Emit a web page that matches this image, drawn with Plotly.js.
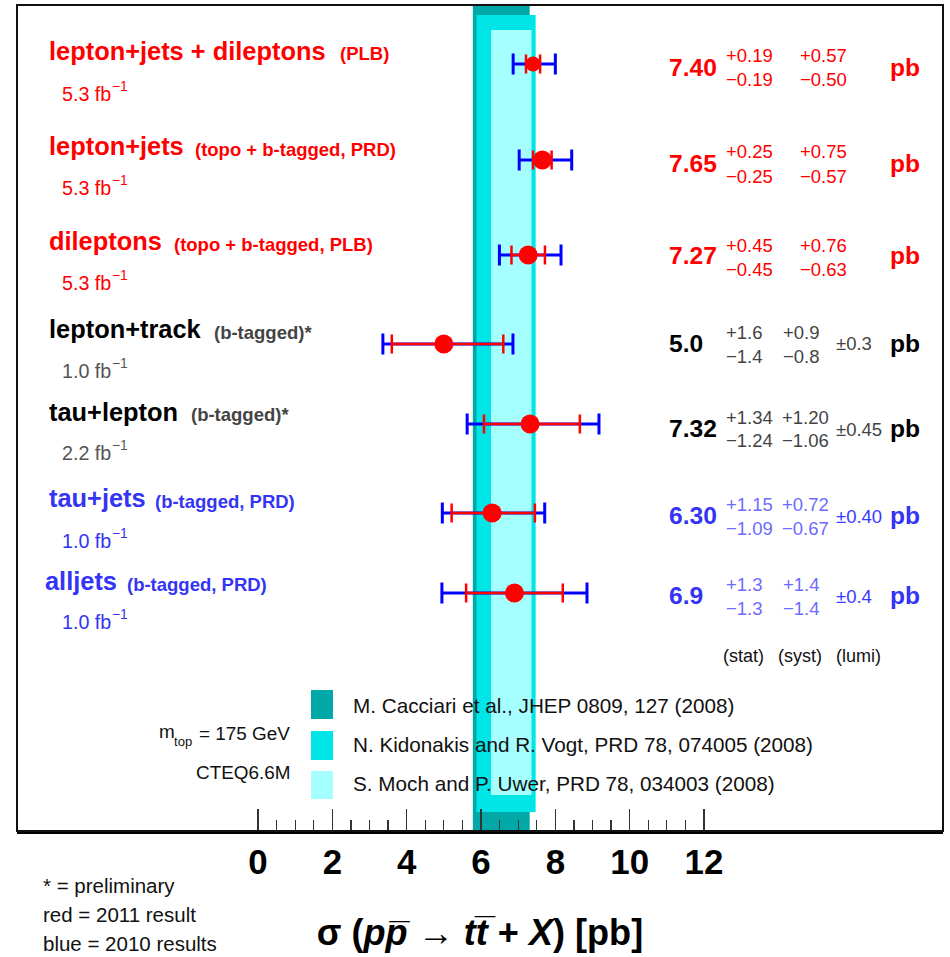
<!DOCTYPE html>
<html><head><meta charset="utf-8">
<script src="https://cdn.plot.ly/plotly-3.0.1.min.js"></script>
<style>html,body{margin:0;padding:0;background:#fff}#chart{width:950px;height:957px}</style>
</head><body><div id="chart"></div>
<script>
// ---------------- data ----------------
const channels = ['lepton+jets + dileptons','lepton+jets','dileptons','lepton+track','tau+lepton','tau+jets','alljets'];
const channelNotes = ['(PLB)','(topo + b-tagged, PRD)','(topo + b-tagged, PLB)','(b-tagged)*','(b-tagged)*','(b-tagged, PRD)','(b-tagged, PRD)'];
const intLumi = ['5.3','5.3','5.3','1.0','2.2','1.0','1.0'];
const xsec   = [7.40, 7.65, 7.27, 5.0, 7.32, 6.30, 6.9];
const statUp = [0.19, 0.25, 0.45, 1.6, 1.34, 1.15, 1.3];
const statDn = [0.19, 0.25, 0.45, 1.4, 1.24, 1.09, 1.3];
const systUp = [0.57, 0.75, 0.76, 0.9, 1.20, 0.72, 1.4];
const systDn = [0.50, 0.57, 0.63, 0.8, 1.06, 0.67, 1.4];
const lumiUnc = [null, null, null, 0.3, 0.45, 0.40, 0.4];
const decimals = [2, 2, 2, 1, 2, 2, 1];
const theoryNames = ['M. Cacciari et al., JHEP 0809, 127 (2008)','N. Kidonakis and R. Vogt, PRD 78, 074005 (2008)','S. Moch and P. Uwer, PRD 78, 034003 (2008)'];
const theoryLow  = [5.78, 5.88, 6.27];
const theoryHigh = [7.31, 7.47, 7.36];
const tickValues = [0, 2, 4, 6, 8, 10, 12];
const tickLabels = ['0','2','4','6','8','10','12'];
const footNotes = ['* = preliminary','red = 2011 result','blue = 2010 results'];

// ---------------- layout / style constants ----------------
const PL = 17, PR = 943, PT = 5, PB = 831;           // plot frame in px
const PX0 = 258, PX12 = 704;                         // pixel of x=0 and x=12
const SC = (PX12 - PX0) / 12;
const XR = [-(PX0 - PL) / SC, (PR - PX0) / SC];
const ROW_Y   = [64, 160, 255, 344, 424, 513, 593];
const LABEL_Y = [51, 146, 241, 329, 412, 498, 581];
const SUB_Y   = [94, 188, 283, 371, 453, 541, 622];
const VAL_Y   = [67, 163, 256, 343, 428, 515, 595];
const LABEL_X = [47, 47, 47, 47, 47, 47, 43];
const NOTE_X  = [338, 193, 172, 212, 189, 153, 125];
const SYST_X  = [798, 798, 798, 781, 780, 780, 781];
const MARKER_SIZE = [15, 19, 19, 19, 19, 19, 19];
const rowGroup = ['red','red','red','black','black','blue','blue'];
const palette = {
  red:   {label:'#FF0000', note:'#FF0000', sub:'#FF0000', val:'#FF0000', unc:'#FF0000', lumi:'#FF0000'},
  black: {label:'#000000', note:'#444444', sub:'#555555', val:'#000000', unc:'#444444', lumi:'#444444'},
  blue:  {label:'#3434F4', note:'#3434F4', sub:'#3434F4', val:'#3434F4', unc:'#6C6CFF', lumi:'#3838FF'}
};
const bandColors = ['#00A8A8', '#00E5E5', '#A6FFFF'];
const bandTop = [6, 15, 30], bandBot = [831, 812, 795];
const swatchY = [[690, 719], [731, 760], [771, 799]];

// font detection (narrow font if installed)
function fontAvailable(name){
  const ctx = document.createElement('canvas').getContext('2d');
  const s = 'lepton+jets 0123456789 mwMW';
  ctx.font = 'bold 50px monospace';
  const a = ctx.measureText(s).width;
  ctx.font = 'bold 50px "' + name + '", monospace';
  const b = ctx.measureText(s).width;
  return Math.abs(a - b) > 0.5;
}
const hasNarrow = fontAvailable('Liberation Sans Narrow');
const FAMILY = hasNarrow ? '"Liberation Sans Narrow", "Liberation Sans", Arial, sans-serif' : '"Liberation Sans", Arial, sans-serif';
const K = hasNarrow ? 1 : 0.82;
const fs = v => Math.round(v * K * 10) / 10;

const px2paperX = px => (px - PL) / (PR - PL);
const px2paperY = py => (PB - py) / (PB - PT);
function ann(text, px, py, size, color, anchor, weight){
  return {text: text, x: px2paperX(px), y: px2paperY(py), xref: 'paper', yref: 'paper',
    xanchor: anchor || 'left', yanchor: 'middle', showarrow: false,
    font: {family: FAMILY, size: fs(size), color: color, weight: weight || 'normal'}};
}
const MINUS = '\u2212';

// ---------------- traces ----------------
const totUp = xsec.map((_, i) => Math.hypot(statUp[i], systUp[i], lumiUnc[i] || 0));
const totDn = xsec.map((_, i) => Math.hypot(statDn[i], systDn[i], lumiUnc[i] || 0));

const traceTotal = {
  type: 'scatter', mode: 'markers', x: xsec, y: ROW_Y,
  marker: {size: 1, color: 'rgba(0,0,0,0)'},
  error_x: {type: 'data', symmetric: false, array: totUp, arrayminus: totDn, color: '#0000FF', thickness: 3, width: 10.5},
  hoverinfo: 'skip', showlegend: false, cliponaxis: false
};
const traceStat = {
  type: 'scatter', mode: 'markers', x: xsec, y: ROW_Y,
  marker: {size: MARKER_SIZE, color: '#FF0000', opacity: 1, line: {width: 0}},
  error_x: {type: 'data', symmetric: false, array: statUp, arrayminus: statDn, color: '#FF0000', thickness: 2.5, width: 9.5},
  hoverinfo: 'skip', showlegend: false, cliponaxis: false
};

// ---------------- shapes ----------------
const shapes = [];
for (let b = 0; b < 3; b++) {
  shapes.push({type: 'rect', xref: 'x', yref: 'y', x0: theoryLow[b], x1: theoryHigh[b], y0: bandTop[b], y1: bandBot[b],
    fillcolor: bandColors[b], line: {width: 0}, layer: 'below'});
  shapes.push({type: 'rect', xref: 'paper', yref: 'paper', x0: px2paperX(311), x1: px2paperX(333),
    y0: px2paperY(swatchY[b][1]), y1: px2paperY(swatchY[b][0]), fillcolor: bandColors[b], line: {width: 0}, layer: 'above'});
}
shapes.push({type: 'rect', xref: 'paper', yref: 'paper', x0: 0, x1: 1, y0: 0, y1: 1, line: {color: '#111', width: 2}, fillcolor: 'rgba(0,0,0,0)', layer: 'above'});

// ---------------- annotations ----------------
const annotations = [];
for (let i = 0; i < channels.length; i++) {
  const c = palette[rowGroup[i]];
  const d = decimals[i];
  annotations.push(ann(channels[i], LABEL_X[i], LABEL_Y[i], 31, c.label, 'left', 'bold'));
  annotations.push(ann(channelNotes[i], NOTE_X[i], LABEL_Y[i] + 3, 22.5, c.note, 'left', 'bold'));
  annotations.push(ann(intLumi[i] + ' fb', 60, SUB_Y[i], 24, c.sub));
  annotations.push(ann(MINUS + '1', 110, SUB_Y[i] - 8, 17, c.sub));
  annotations.push(ann(xsec[i].toFixed(d), 667, VAL_Y[i], 30, c.val, 'left', 'bold'));
  annotations.push(ann('+' + statUp[i].toFixed(d), 724, VAL_Y[i] - 11, 22.5, c.unc));
  annotations.push(ann(MINUS + statDn[i].toFixed(d), 724, VAL_Y[i] + 13, 22.5, c.unc));
  annotations.push(ann('+' + systUp[i].toFixed(d), SYST_X[i], VAL_Y[i] - 11, 22.5, c.unc));
  annotations.push(ann(MINUS + systDn[i].toFixed(d), SYST_X[i], VAL_Y[i] + 13, 22.5, c.unc));
  if (lumiUnc[i] !== null) annotations.push(ann('\u00b1' + lumiUnc[i].toFixed(d), 834, VAL_Y[i] + 1, 22.5, c.lumi));
  annotations.push(ann('pb', 888, VAL_Y[i], 30, c.val, 'left', 'bold'));
}
annotations.push(ann('(stat)', 743, 656, 22, '#111', 'center'));
annotations.push(ann('(syst)', 800, 656, 22, '#111', 'center'));
annotations.push(ann('(lumi)', 858, 656, 22, '#111', 'center'));
const legY = [705, 744, 783];
for (let b = 0; b < 3; b++) annotations.push(ann(theoryNames[b], 351, legY[b], 25.3, '#111'));
annotations.push(ann('m', 177, 731, 23, '#111', 'right'));
annotations.push(ann('top', 172, 741, 16, '#111', 'left'));
annotations.push(ann('= 175 GeV', 292, 733, 23, '#111', 'right'));
annotations.push(ann('CTEQ6.6M', 292, 772, 23, '#111', 'right'));
const footY = [885, 914, 943];
for (let k = 0; k < 3; k++) annotations.push(ann(footNotes[k], 41, footY[k], 25, '#111'));

// minor ticks every 0.5 between 0 and 12
const minorVals = [];
for (let v = 0.5; v < 12; v += 0.5) if (v % 2 !== 0) minorVals.push(v);

const layout = {
  width: 950, height: 957,
  margin: {l: PL, r: 950 - PR, t: PT, b: 957 - PB, pad: 0},
  paper_bgcolor: '#fff', plot_bgcolor: '#fff',
  showlegend: false, hovermode: false,
  font: {family: FAMILY, color: '#000'},
  xaxis: {
    range: XR, autorange: false, automargin: false,
    showgrid: false, zeroline: false,
    showline: true, linecolor: '#000', linewidth: 3,
    tickmode: 'array', tickvals: tickValues, ticktext: tickLabels,
    ticks: 'inside', ticklen: 22, tickwidth: 1.2, tickcolor: '#333',
    minor: {tickmode: 'array', tickvals: minorVals, ticks: 'inside', ticklen: 11, tickwidth: 1.2, tickcolor: '#333', showgrid: false},
    tickfont: {family: FAMILY, size: fs(42.5), color: '#000', weight: 'bold'},
    ticklabelstandoff: -2,
    title: {text: '\u03c3 (<i>p</i><i>p\u0305</i> \u2192 <i>t</i><i>t\u0305</i> + <i>X</i>) [pb]',
      font: {family: FAMILY, size: fs(44), color: '#000', weight: 'bold'}, standoff: 40}
  },
  yaxis: {range: [PB, PT], autorange: false, automargin: false, visible: false, showgrid: false, zeroline: false},
  shapes: shapes,
  annotations: annotations
};

Plotly.newPlot('chart', [traceTotal, traceStat], layout, {displayModeBar: false, staticPlot: true});
</script>
</body></html>
